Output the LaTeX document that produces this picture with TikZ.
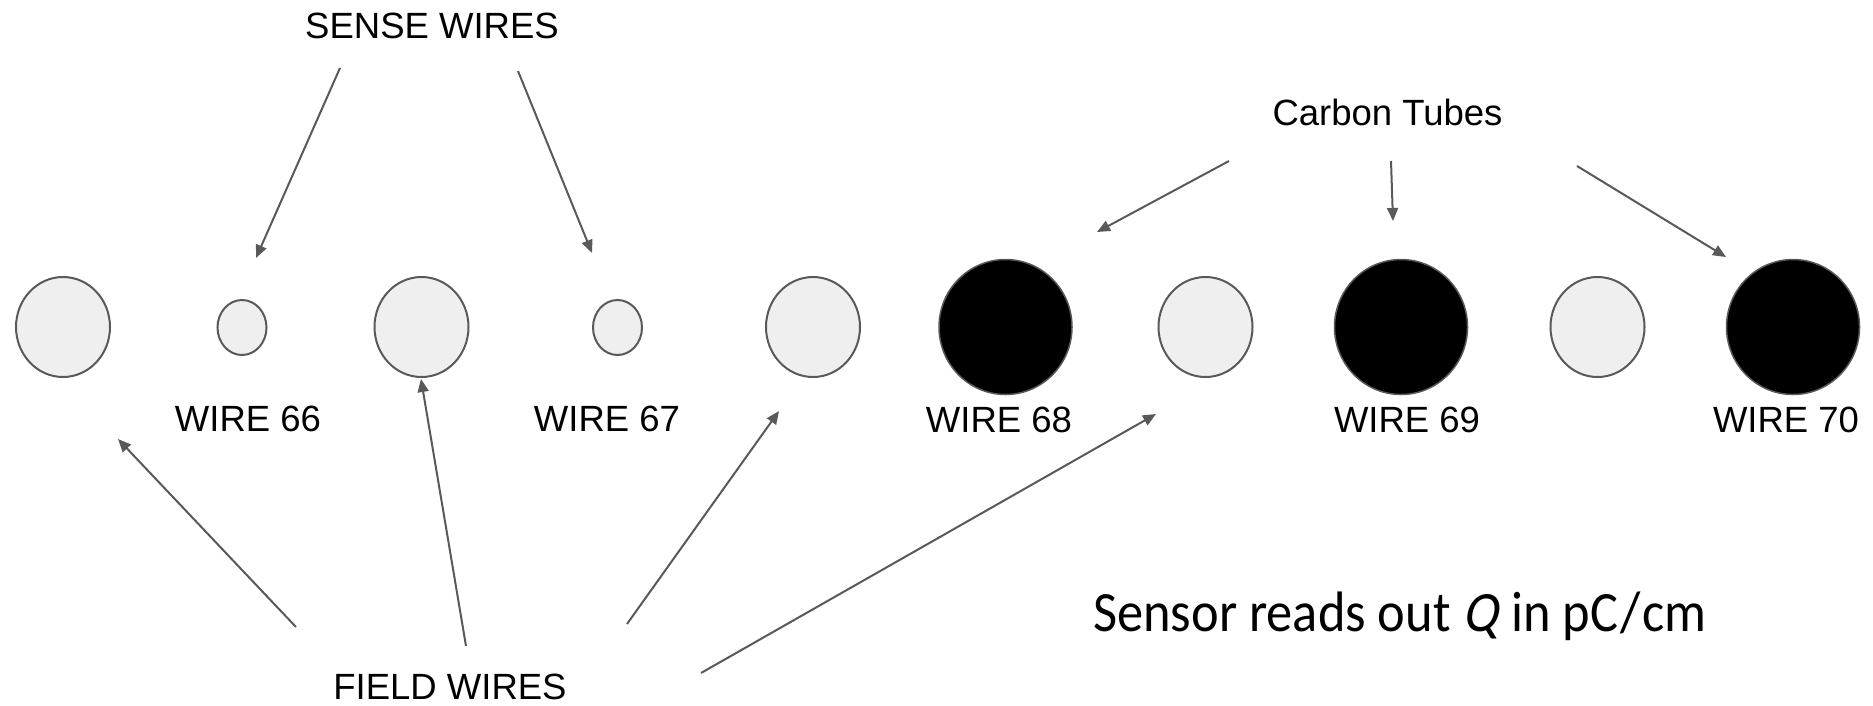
\documentclass[tikz,border=0pt]{standalone}
\usepackage{fontspec}
\setmainfont{Liberation Sans}
\newfontfamily\sensorfont{Carlito}
\newfontfamily\sensorslant[FakeSlant=0.22]{Carlito}
\usetikzlibrary{arrows.meta,shapes.geometric}
\definecolor{wgray}{HTML}{595959}
\definecolor{wfill}{HTML}{EFEFEF}
\tikzset{
  fieldwire/.style={ellipse,draw=wgray,fill=wfill,line width=2pt,minimum width=94pt,minimum height=100pt,inner sep=0pt},
  sensewire/.style={ellipse,draw=wgray,fill=wfill,line width=2pt,minimum width=49pt,minimum height=55pt,inner sep=0pt},
  tube/.style={ellipse,draw=wgray,fill=black,line width=1.5pt,minimum width=133pt,minimum height=135pt,inner sep=0pt},
  lbl/.style={anchor=base,inner sep=0pt,font=\fontsize{36.5}{40}\selectfont},
  pointer/.style={draw=wgray,line width=2pt,-{Triangle[length=13pt,width=11pt]}}
}
\begin{document}
\begin{tikzpicture}[x=1pt,y=-1pt]
\useasboundingbox (0,0) rectangle (1873,705);
% wires
\node[fieldwire] (f1) at (63,327) {};
\node[sensewire] (s66) at (242,327.5) {};
\node[fieldwire] (f2) at (421.5,327) {};
\node[sensewire] (s67) at (617.5,327.5) {};
\node[fieldwire] (f3) at (813,327) {};
\node[tube] (t68) at (1005.5,327) {};
\node[fieldwire] (f4) at (1205.5,327) {};
\node[tube] (t69) at (1401,327) {};
\node[fieldwire] (f5) at (1597.5,327) {};
\node[tube] (t70) at (1793,327) {};
% labels
\node[lbl] (l66) at (248,431) {WIRE 66};
\node[lbl] (l67) at (607,431) {WIRE 67};
\node[lbl] (l68) at (999,432) {WIRE 68};
\node[lbl] (l69) at (1407,432) {WIRE 69};
\node[lbl] (l70) at (1786,432) {WIRE 70};
\node[lbl] (sense) at (432,38) {SENSE WIRES};
\node[lbl] (carbon) at (1387.5,125) {Carbon Tubes};
\node[lbl] (field) at (450,699) {FIELD WIRES};
\node[anchor=base west,inner sep=0pt] (sensor) at (1093,631)
  {\scalebox{0.92}[1]{\sensorfont\fontsize{57}{60}\selectfont Sensor reads out {\sensorslant Q}\kern2pt{} in pC\kern2pt/\kern2pt cm}};
% arrow ends
\coordinate (sa1) at (340,68);  \coordinate (sb1) at (256,258);
\coordinate (sa2) at (518,71);  \coordinate (sb2) at (592,253);
\coordinate (ca1) at (1229,161); \coordinate (cb1) at (1097,232);
\coordinate (ca2) at (1391,161); \coordinate (cb2) at (1393,221);
\coordinate (ca3) at (1577,166); \coordinate (cb3) at (1726,257);
\coordinate (fa1) at (296,627); \coordinate (fb1) at (118,439);
\coordinate (fa2) at (466,646); \coordinate (fb2) at (421,379);
\coordinate (fa3) at (627,624); \coordinate (fb3) at (779,411);
\coordinate (fa4) at (701,673); \coordinate (fb4) at (1156,414);
\draw[pointer] (sa1) -- (sb1);
\draw[pointer] (sa2) -- (sb2);
\draw[pointer] (ca1) -- (cb1);
\draw[pointer] (ca2) -- (cb2);
\draw[pointer] (ca3) -- (cb3);
\draw[pointer] (fa1) -- (fb1);
\draw[pointer] (fa2) -- (fb2);
\draw[pointer] (fa3) -- (fb3);
\draw[pointer] (fa4) -- (fb4);
\end{tikzpicture}
\end{document}
